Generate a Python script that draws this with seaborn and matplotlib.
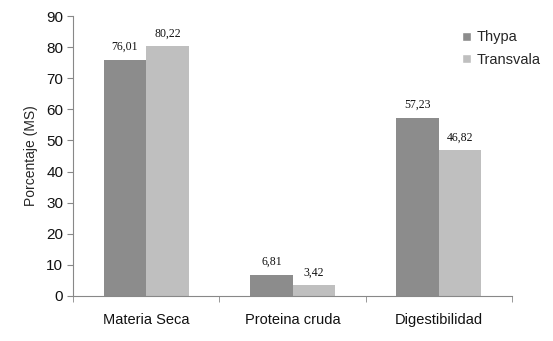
import matplotlib
matplotlib.use("Agg")
import matplotlib.pyplot as plt
import seaborn as sns
import pandas as pd
from matplotlib.patches import Patch

categories = ["Materia Seca", "Proteina cruda", "Digestibilidad"]
thypa = [76.01, 6.81, 57.23]
transvala = [80.22, 3.42, 46.82]
series = ["Thypa", "Transvala"]
colors = ["#8c8c8c", "#bfbfbf"]

df = pd.DataFrame({
    "cat": categories * 2,
    "val": thypa + transvala,
    "serie": [series[0]] * 3 + [series[1]] * 3,
})

sns.set_style("white")
plt.rcParams['font.family'] = ['Liberation Sans', 'DejaVu Sans']

fig = plt.figure(figsize=(5.53, 3.41), dpi=100)
ax = fig.add_axes([0.132, 0.132, 0.794, 0.821])
sns.barplot(data=df, x="cat", y="val", hue="serie", palette=colors,
            width=0.58, ax=ax, legend=False, saturation=1, linewidth=0)

for cont in ax.containers:
    labels = [f"{v:.2f}".replace(".", ",") for v in cont.datavalues]
    ax.bar_label(cont, labels=labels, padding=5, fontsize=8.5,
                 family=['Liberation Serif', 'DejaVu Serif'], color="#111111")

ax.set_xlim(-0.5, 2.5)
ax.set_ylim(0, 90)
ax.set_yticks(range(0, 91, 10))
ax.set_xlabel("")
ax.set_ylabel("Porcentaje (MS)", fontsize=10, labelpad=6)
ax.tick_params(axis="y", labelsize=11, length=4, color="#888888", direction="out", left=True, pad=3,
               labelcolor="#111111")
ax.tick_params(axis="x", which="major", labelsize=10.5, length=0, pad=12, labelcolor="#111111")
ax.set_xticks([-0.5, 0.5, 1.5, 2.5], minor=True)
ax.tick_params(axis="x", which="minor", length=4, color="#888888", direction="out", bottom=True)
for s in ["top", "right"]:
    ax.spines[s].set_visible(False)
for s in ["left", "bottom"]:
    ax.spines[s].set_color("#888888")
    ax.spines[s].set_linewidth(0.8)

handles = [Patch(facecolor=c, label=l) for c, l in zip(colors, series)]
ax.legend(handles=handles, loc="upper left", bbox_to_anchor=(0.86, 0.99),
          frameon=False, fontsize=10.5, handlelength=0.6, handleheight=0.6,
          handletextpad=0.35, labelspacing=0.55, borderpad=0.3)

fig.savefig("out.png", dpi=100)
